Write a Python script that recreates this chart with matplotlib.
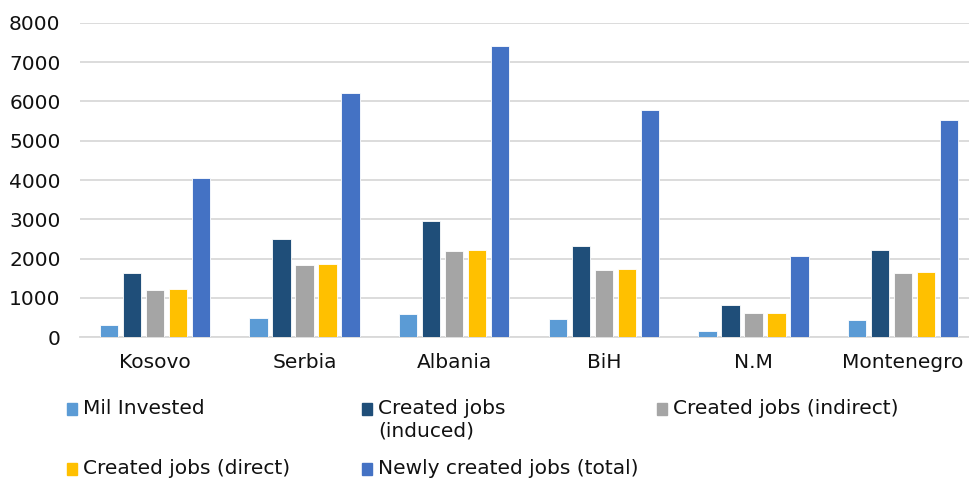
import numpy as np
import matplotlib
matplotlib.use('Agg')
import matplotlib.pyplot as plt
from matplotlib.patches import Rectangle

plt.rcParams['font.family'] = ['DejaVu Sans']

countries = ['Kosovo', 'Serbia', 'Albania', 'BiH', 'N.M', 'Montenegro']
mil_invested = [310, 480, 585, 460, 155, 435]
jobs_induced = [1630, 2490, 2970, 2315, 830, 2215]
jobs_indirect = [1200, 1840, 2205, 1710, 610, 1635]
jobs_direct = [1220, 1865, 2220, 1740, 620, 1660]
jobs_total = [4045, 6210, 7410, 5785, 2070, 5530]

series_names = ['Mil Invested', 'Created jobs\n(induced)', 'Created jobs (indirect)',
                'Created jobs (direct)', 'Newly created jobs (total)']
series = [mil_invested, jobs_induced, jobs_indirect, jobs_direct, jobs_total]
colors = ['#5B9BD5', '#1F4E79', '#A5A5A5', '#FFC000', '#4472C4']

fig = plt.figure(figsize=(9.69, 4.79), dpi=100)
ax = fig.add_axes([80 / 969, 141.7 / 479, 898 / 969, 314.6 / 479])

x = np.arange(len(countries))
step = 0.154
for i, (vals, col) in enumerate(zip(series, colors)):
    ax.bar(x + (i - 2) * step, vals, width=step * 0.8, color=col,
           edgecolor='white', linewidth=0.6, zorder=3)

ax.set_xlim(-0.5, len(countries) - 0.5)
ax.set_ylim(0, 8000)
ax.set_yticks(range(0, 8001, 1000))
ax.yaxis.grid(True, color='#D9D9D9', linewidth=1.3, zorder=0)
ax.set_xticks(x)
ax.set_xticklabels(countries)
ax.tick_params(axis='both', length=0, labelsize=14.5, colors='#111111')
ax.tick_params(axis='y', pad=14)
ax.tick_params(axis='x', pad=11)
for side in ['top', 'right', 'left']:
    ax.spines[side].set_visible(False)
ax.spines['bottom'].set_color('#D9D9D9')
ax.spines['bottom'].set_linewidth(1.3)

# legend laid out in fixed-width columns
legend_pos = [(67, 409), (362, 409), (657, 409), (67, 469), (362, 469)]
for (px, py), name, col in zip(legend_pos, series_names, colors):
    fx, fy = px / 969, 1 - py / 479
    fig.patches.append(Rectangle((fx, fy - 6 / 479), 10 / 969, 12 / 479,
                                 transform=fig.transFigure, color=col))
    fig.text(fx + 16 / 969, fy + 10 / 479, name, fontsize=14.5, color='#111111',
             va='top', ha='left', linespacing=1.25)

fig.savefig('out.png', dpi=100)
